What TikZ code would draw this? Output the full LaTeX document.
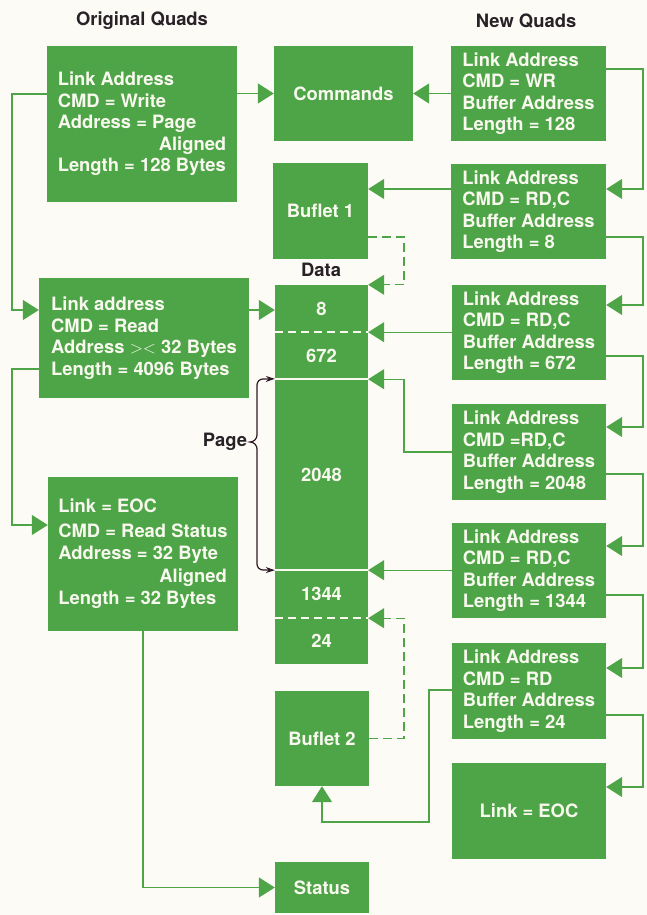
\documentclass[tikz,border=0pt]{standalone}
\usepackage{fontspec}
\setmainfont{TeX Gyre Heros}
\usetikzlibrary{arrows.meta}
\definecolor{hpgreen}{RGB}{78,165,72}
\definecolor{boxtext}{RGB}{248,248,238}
\definecolor{bgcream}{RGB}{253,251,245}
\definecolor{darktext}{RGB}{40,34,40}
\definecolor{bracecol}{RGB}{45,25,35}
\tikzset{
  qbox/.style={fill=hpgreen, text=boxtext, font=\bfseries\fontsize{18.4}{21.5}\selectfont, inner sep=0pt, align=left},
  cbox/.style={qbox, align=center},
  link/.style={draw=hpgreen, line width=1.3pt, -{Triangle[length=16pt,width=20pt]}},
  dlink/.style={link, dash pattern=on 9pt off 5pt},
  sepsolid/.style={draw=boxtext, line width=2pt},
  sepdash/.style={sepsolid, dash pattern=on 8pt off 5pt},
  lbl/.style={text=darktext, font=\bfseries\fontsize{18.4}{22}\selectfont, inner sep=0pt},
}
\begin{document}
\begin{tikzpicture}[x=1pt,y=-1pt]
\useasboundingbox (0,0) rectangle (647,915);
\fill[bgcream] (0,0) rectangle (647,915);

% headers
\node[lbl] (hOrig) at (142,21) {Original Quads};
\node[lbl] (hNew) at (526,21) {New Quads};

% original quads
\node[qbox, minimum width=190pt, minimum height=156pt] (oq1) at (142,124)
  {Link Address\\CMD = Write\\Address = Page\\\hspace*{101pt}Aligned\\Length = 128 Bytes};
\node[qbox, minimum width=210pt, minimum height=120pt] (oq2) at (144,338)
  {Link address\\CMD = Read\\Address \ensuremath{><} 32 Bytes\\Length = 4096 Bytes};
\node[qbox, minimum width=190pt, minimum height=154pt] (oq3) at (143,554)
  {Link = EOC\\[3pt]CMD = Read Status\\[1pt]Address = 32 Byte\\[1pt]\hspace*{101pt}Aligned\\[1pt]Length = 32 Bytes};

% middle column
\node[cbox, minimum width=139pt, minimum height=95pt] (cmd) at (343.5,93.5) {Commands};
\node[cbox, minimum width=95pt, minimum height=96pt] (buf1) at (320.5,211) {Buflet 1};
\node[lbl] (data) at (321,270) {Data};
\node[cbox, minimum width=93pt, minimum height=47pt] (d8) at (321.5,308.5) {8};
\node[cbox, minimum width=93pt, minimum height=47pt] (d672) at (321.5,355.5) {672};
\node[cbox, minimum width=93pt, minimum height=191pt] (d2048) at (321.5,474.5) {2048};
\node[cbox, minimum width=93pt, minimum height=48pt] (d1344) at (321.5,594) {1344};
\node[cbox, minimum width=93pt, minimum height=46pt] (d24) at (321.5,641) {24};
\node[cbox, minimum width=94pt, minimum height=95pt] (buf2) at (322,738.5) {Buflet 2};
\node[cbox, minimum width=94pt, minimum height=51pt] (status) at (322,887.5) {Status};

% separators in data column
\draw[sepdash] (d8.south west) -- (d8.south east);
\draw[sepsolid] (d672.south west) -- (d672.south east);
\draw[sepsolid] (d2048.south west) -- (d2048.south east);
\draw[sepdash] (d1344.south west) -- (d1344.south east);

% new quads
\node[qbox, minimum width=155pt, minimum height=95pt] (nq1) at (528.5,93.5)
  {Link Address\\CMD = WR\\Buffer Address\\Length = 128};
\node[qbox, minimum width=155pt, minimum height=95pt] (nq2) at (528.5,211.5)
  {Link Address\\CMD = RD,C\\Buffer Address\\Length = 8};
\node[qbox, minimum width=154pt, minimum height=95pt] (nq3) at (529,332.5)
  {Link Address\\CMD = RD,C\\Buffer Address\\Length = 672};
\node[qbox, minimum width=154pt, minimum height=96pt] (nq4) at (529,452)
  {Link Address\\CMD =RD,C\\Buffer Address\\Length = 2048};
\node[qbox, minimum width=154pt, minimum height=95pt] (nq5) at (529,570.5)
  {Link Address\\CMD = RD,C\\Buffer Address\\Length = 1344};
\node[qbox, minimum width=154pt, minimum height=96pt] (nq6) at (529,691)
  {Link Address\\CMD = RD\\Buffer Address\\Length = 24};
\node[cbox, minimum width=154pt, minimum height=96pt] (nq7) at (529,811) {Link = EOC};

% bus coordinates
\coordinate (lbus) at (12,0);
\coordinate (rbus) at (643,0);
\coordinate (mbus) at (404,0);
\coordinate (nbus) at (429,0);

% right-hand chain
\draw[link] (nq1.east |- 0,69) -- (rbus |- 0,69) -- (rbus |- 0,189) -- (nq2.east |- 0,189);
\draw[link] (nq2.east |- 0,237) -- (rbus |- 0,237) -- (rbus |- 0,305) -- (nq3.east |- 0,305);
\draw[link] (nq3.east |- 0,356) -- (rbus |- 0,356) -- (rbus |- 0,427) -- (nq4.east |- 0,427);
\draw[link] (nq4.east |- 0,474) -- (rbus |- 0,474) -- (rbus |- 0,546) -- (nq5.east |- 0,546);
\draw[link] (nq5.east |- 0,595) -- (rbus |- 0,595) -- (rbus |- 0,668) -- (nq6.east |- 0,668);
\draw[link] (nq6.east |- 0,715) -- (rbus |- 0,715) -- (rbus |- 0,787) -- (nq7.east |- 0,787);

% new quads to buffers
\draw[link] (nq1.west |- cmd.east) -- (cmd.east);
\draw[link] (nq2.west |- 0,189) -- (buf1.east |- 0,189);
\draw[link] (nq3.west |- d8.south east) -- (d8.south east);
\draw[link] (nq4.west |- 0,452) -- (mbus |- 0,452) -- (mbus |- d672.south east) -- (d672.south east);
\draw[link] (nq5.west |- d2048.south east) -- (d2048.south east);
\draw[link] (nq6.west |- 0,690) -- (nbus |- 0,690) -- (nbus |- 0,822) -- (buf2.south |- 0,822) -- (buf2.south);

% dashed buflet links
\draw[dlink] (buf1.east |- 0,237) -- (mbus |- 0,237) -- (mbus |- d8.north east) -- (d8.north east);
\draw[dlink] (buf2.east) -- (mbus |- buf2.east) -- (mbus |- d1344.south east) -- (d1344.south east);

% original quads links
\draw[link] (oq1.east |- cmd.west) -- (cmd.west);
\draw[link] (oq1.west |- 0,94) -- (lbus |- 0,94) -- (lbus |- 0,310) -- (oq2.west |- 0,310);
\draw[link] (oq2.east |- 0,310) -- (d8.west |- 0,310);
\draw[link] (oq2.west |- 0,369) -- (lbus |- 0,369) -- (lbus |- 0,525) -- (oq3.west |- 0,525);
\draw[link] (oq3.south) -- (oq3.south |- status.west) -- (status.west);

% page brace
\node[lbl] (page) at (225,442) {Page};
\draw[bracecol, line width=1.2pt, {Stealth[length=9pt,width=6pt]}-{Stealth[length=9pt,width=6pt]}]
  (d2048.north west) -- (263,379) to[out=180,in=90] (257,385) -- (257,435)
  to[out=-90,in=0] (250,442) to[out=0,in=90] (257,449) -- (257,564)
  to[out=-90,in=180] (263,570) -- (d2048.south west);
\end{tikzpicture}
\end{document}
